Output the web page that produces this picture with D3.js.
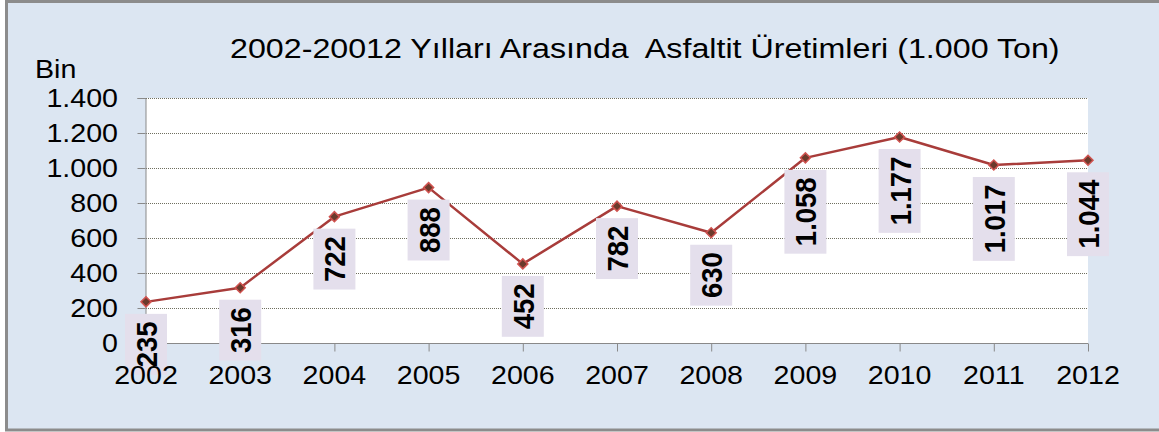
<!DOCTYPE html>
<html lang="tr">
  <head>
    <meta charset="utf-8" />
    <title>Asfaltit Üretimleri</title>
    <style>
      html,
      body {
        margin: 0;
        padding: 0;
        background: #fff;
      }

      svg {
        display: block;
        font-family: 'Liberation Sans', Arial, sans-serif;
      }
    </style>
    <script src="https://d3js.org/d3.v7.min.js"></script>
  </head>
  <body>
    <svg width="1159" height="432"></svg>

    <script>
      var years = ['2002', '2003', '2004', '2005', '2006', '2007', '2008', '2009', '2010', '2011', '2012'];
      var values = [235, 316, 722, 888, 452, 782, 630, 1058, 1177, 1017, 1044];
      var yTicks = [0, 200, 400, 600, 800, 1000, 1200, 1400];
      var title = '2002-20012 Yılları Arasında  Asfaltit Üretimleri (1.000 Ton)';
      var unitLabel = 'Bin';

      var svg = d3.select('svg'),
        width = +svg.attr('width'),
        height = +svg.attr('height'),
        sx = 1.1; // the picture is a little wider than tall

      var tr = d3.formatLocale({ decimal: ',', thousands: '.', grouping: [3], currency: ['', ' TL'] });
      var fmt = tr.format(',');

      var plot = { left: 146, right: 1088, top: 98, bottom: 343 };

      var x = d3.scalePoint().domain(years).range([plot.left, plot.right]);
      var y = d3.scaleLinear().domain([0, 1400]).range([plot.bottom, plot.top]);

      function place(px, py, rot, s) {
        return 'translate(' + px + ',' + py + ') scale(' + (s || sx) + ',1)' + (rot ? ' rotate(' + rot + ')' : '');
      }

      // frame
      svg.append('rect')
        .attr('x', 6.5).attr('y', 1.5)
        .attr('width', width + 10).attr('height', height - 3.5)
        .attr('fill', '#dce6f2')
        .attr('stroke', '#8c8c8c')
        .attr('stroke-width', 3);

      svg.append('rect')
        .attr('x', plot.left).attr('y', plot.top)
        .attr('width', plot.right - plot.left).attr('height', plot.bottom - plot.top)
        .attr('fill', '#fff');

      // grid
      svg.append('g')
        .selectAll('line')
        .data(yTicks.filter(function(d) { return d > 0; }))
        .enter().append('line')
        .attr('x1', plot.left).attr('x2', plot.right)
        .attr('y1', function(d) { return y(d) + 0.5; })
        .attr('y2', function(d) { return y(d) + 0.5; })
        .attr('stroke', '#6f6f5f')
        .attr('stroke-width', 1)
        .attr('stroke-dasharray', '1,1');

      // y axis
      var yAxis = svg.append('g')
        .attr('transform', 'translate(' + (plot.left - 0.5) + ',0)')
        .call(d3.axisLeft(y).tickValues(yTicks).tickSize(8).tickFormat(''));
      yAxis.select('.domain').attr('stroke', '#898989');
      yAxis.selectAll('.tick line').attr('stroke', '#898989');

      svg.append('g')
        .selectAll('text')
        .data(yTicks)
        .enter().append('text')
        .attr('transform', function(d) { return place(118, y(d)); })
        .attr('text-anchor', 'end')
        .attr('dy', '0.36em')
        .attr('font-size', 26)
        .attr('fill', '#000')
        .text(fmt);

      // x axis
      var xAxis = svg.append('g')
        .attr('transform', 'translate(0,' + (plot.bottom + 0.5) + ')')
        .call(d3.axisBottom(x).tickSize(8).tickSizeOuter(0).tickFormat(''));
      xAxis.select('.domain').attr('stroke', '#898989').attr('d', 'M' + (plot.left - 0.5) + ',0H' + plot.right);
      xAxis.selectAll('.tick line').attr('stroke', '#898989');

      // line
      var pts = years.map(function(d, i) { return { year: d, value: values[i] }; });

      svg.append('path')
        .datum(pts)
        .attr('fill', 'none')
        .attr('stroke', '#a83c3a')
        .attr('stroke-width', 2.5)
        .attr('stroke-linejoin', 'round')
        .attr('d', d3.line()
          .x(function(d) { return x(d.year); })
          .y(function(d) { return y(d.value); }));

      svg.append('g')
        .selectAll('path')
        .data(pts)
        .enter().append('path')
        .attr('transform', function(d) { return 'translate(' + x(d.year) + ',' + y(d.value) + ') rotate(45)'; })
        .attr('d', d3.symbol().type(d3.symbolSquare).size(50))
        .attr('fill', '#6b3a2c')
        .attr('stroke', '#d0524f')
        .attr('stroke-width', 1.5);

      // value labels
      var labels = svg.append('g')
        .selectAll('g')
        .data(pts)
        .enter().append('g');

      labels.append('rect')
        .attr('fill', '#e4dfec');

      var ltext = labels.append('text')
        .attr('text-anchor', 'middle')
        .attr('dy', '0.36em')
        .attr('font-size', 27.5)
        .attr('font-weight', 'bold')
        .attr('fill', '#000')
        .text(function(d) { return fmt(d.value); });

      ltext.each(function(d) {
        var len = this.getComputedTextLength(),
          h = len + 15,
          cx = x(d.year),
          top = y(d.value) + 12;
        d3.select(this).attr('transform', place(cx, top + h / 2, -90));
        d3.select(this.parentNode).select('rect')
          .attr('x', cx - 21).attr('y', top)
          .attr('width', 42).attr('height', h);
      });

      // x tick labels, drawn above the boxes as in the original
      svg.append('g')
        .selectAll('text')
        .data(years)
        .enter().append('text')
        .attr('transform', function(d) { return place(x(d), 384); })
        .attr('text-anchor', 'middle')
        .attr('font-size', 26)
        .attr('fill', '#000')
        .text(function(d) { return d; });

      // titles
      var t = svg.append('text')
        .attr('font-size', 28)
        .style('white-space', 'pre')
        .attr('fill', '#000')
        .text(title);
      var tw = t.node().getComputedTextLength();
      t.attr('transform', place(230, 58, 0, 830 / tw));

      svg.append('text')
        .attr('transform', place(35, 78))
        .attr('font-size', 26)
        .attr('fill', '#000')
        .text(unitLabel);
    </script>
  </body>
</html>
